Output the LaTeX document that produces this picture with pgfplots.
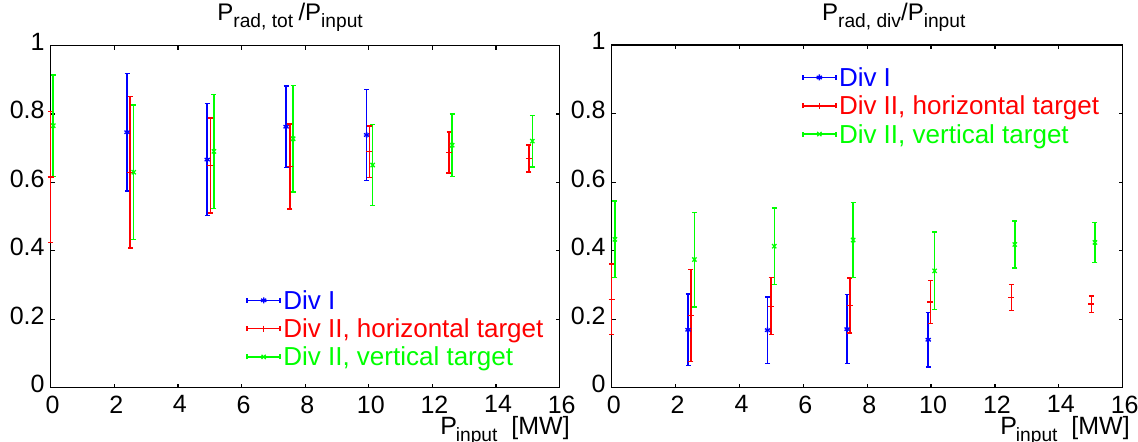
\documentclass[border=0pt]{standalone}
\usepackage{fontspec}
\setmainfont{Liberation Sans}
\usepackage{pgfplots}
\usepackage{pgfplotstable}
\pgfplotsset{compat=1.18}

\definecolor{mblue}{RGB}{0,0,255}
\definecolor{mred}{RGB}{255,0,0}
\definecolor{mgreen}{RGB}{0,255,0}

\newcommand{\ssub}[1]{\raisebox{-3.35pt}{\fontsize{9.6}{11}\selectfont #1}}

% P_rad,tot / P_input
\pgfplotstableread{
x y e
2.40 0.747 0.172
4.92 0.667 0.164
7.40 0.763 0.119
9.93 0.739 0.133
}\totblue
\pgfplotstableread{
x y e
0.00 0.616 0.192
2.50 0.630 0.221
5.02 0.650 0.139
7.52 0.647 0.124
10.02 0.690 0.075
12.52 0.688 0.060
15.03 0.670 0.039
}\totred
\pgfplotstableread{
x y e
0.08 0.766 0.148
2.61 0.630 0.196
5.13 0.691 0.167
7.62 0.728 0.156
10.12 0.651 0.119
12.62 0.709 0.091
15.14 0.721 0.075
}\totgreen

% P_rad,div / P_input
\pgfplotstableread{
x y e
2.39 0.169 0.104
4.88 0.168 0.097
7.37 0.171 0.101
9.91 0.140 0.080
}\divblue
\pgfplotstableread{
x y e
0.00 0.258 0.103
2.48 0.211 0.134
4.99 0.238 0.083
7.46 0.240 0.080
9.98 0.250 0.063
12.51 0.263 0.038
15.02 0.244 0.024
}\divred
\pgfplotstableread{
x y e
0.10 0.433 0.112
2.59 0.374 0.138
5.09 0.413 0.112
7.56 0.431 0.110
10.11 0.341 0.113
12.62 0.418 0.069
15.13 0.424 0.058
}\divgreen

\pgfplotsset{
  panel/.style={
    scale only axis,
    xmin=0, xmax=16, ymin=0, ymax=1,
    xtick={0,2,4,6,8,10,12,14,16},
    ytick={0,0.2,0.4,0.6,0.8,1},
    tick align=inside, tick pos=both, major tick length=2pt,
    axis line style={line width=0.75pt},
    tick style={line width=0.6pt, black},
    clip=false,
    /pgf/number format/assume math mode=true,
    ticklabel style={font=\fontsize{12.5}{15}\selectfont, inner sep=0pt},
    xticklabel style={yshift=-3.85pt, xshift=1pt},
    yticklabel style={xshift=-2.85pt, yshift=1.85pt},
    title style={font=\fontsize{12}{14}\selectfont, anchor=base west, inner sep=0pt, yshift=6.35pt},
    xlabel style={font=\fontsize{12.5}{15}\selectfont, anchor=base west, inner sep=0pt},
    xlabel={P\kern-0.6pt\ssub{input}\ \ [MW]},
    legend cell align=left,
    legend style={draw=none, fill=none, inner sep=0pt, anchor=north west,
      font=\fontsize{13}{15}\selectfont, column sep=1.2pt, row sep=2.15pt,
      nodes={inner sep=0pt, text height=9pt, text depth=3pt}},
    legend image code/.code={
      \draw[##1, mark=none] (0pt,1.5pt) -- (16.5pt,1.5pt);
      \draw[##1, mark=none] (0pt,0.25pt) -- (0pt,2.75pt) (16.5pt,0.25pt) -- (16.5pt,2.75pt);
      \draw[##1, only marks] plot coordinates {(8.25pt,1.5pt)};
    },
  },
  ebar/.style={only marks, mark size=1.5pt, line width=0.75pt,
    mark options={line width=0.65pt},
    error bars/.cd, y dir=both, y explicit,
    error bar style={line width=0.75pt},
    error mark options={rotate=90, mark size=1.25pt, line width=0.75pt}},
}

\begin{document}
\begin{tikzpicture}
\begin{axis}[panel,
  at={(0pt,0pt)}, anchor=south west,
  width=254.5pt, height=171pt,
  title={P\ssub{rad, tot }/P\ssub{input}},
  title style={at={(axis description cs:0.3267,1)}},
  xlabel style={at={(axis description cs:0.7648,0)}, yshift=-23.65pt},
  legend style={at={(axis description cs:0.3837,0.283)}},
  legend entries={\textcolor{mblue}{Div I}, \textcolor{mred}{Div II, horizontal target}, \textcolor{mgreen}{Div II, vertical target}},
  ]
  \addplot[color=mblue, mark=asterisk, ebar] table[x=x, y=y, y error=e] {\totblue};
  \addplot[color=mred, mark=+, ebar] table[x=x, y=y, y error=e] {\totred};
  \addplot[color=mgreen, mark=x, ebar] table[x=x, y=y, y error=e] {\totgreen};
\end{axis}

\begin{axis}[panel,
  at={(280.5pt,0pt)}, anchor=south west,
  width=255.5pt, height=171.3pt,
  title={P\ssub{rad, div}/P\ssub{input}},
  title style={at={(axis description cs:0.411,1)}},
  xlabel style={at={(axis description cs:0.7599,0)}, yshift=-23.35pt},
  legend style={at={(axis description cs:0.3718,0.9329)}},
  legend entries={\textcolor{mblue}{Div I}, \textcolor{mred}{Div II, horizontal target}, \textcolor{mgreen}{Div II, vertical target}},
  ]
  \addplot[color=mblue, mark=asterisk, ebar] table[x=x, y=y, y error=e] {\divblue};
  \addplot[color=mred, mark=+, ebar] table[x=x, y=y, y error=e] {\divred};
  \addplot[color=mgreen, mark=x, ebar] table[x=x, y=y, y error=e] {\divgreen};
\end{axis}

\pgfresetboundingbox
\useasboundingbox (-25.35pt,-27.15pt) rectangle (543.65pt,193.85pt);
\end{tikzpicture}
\end{document}
